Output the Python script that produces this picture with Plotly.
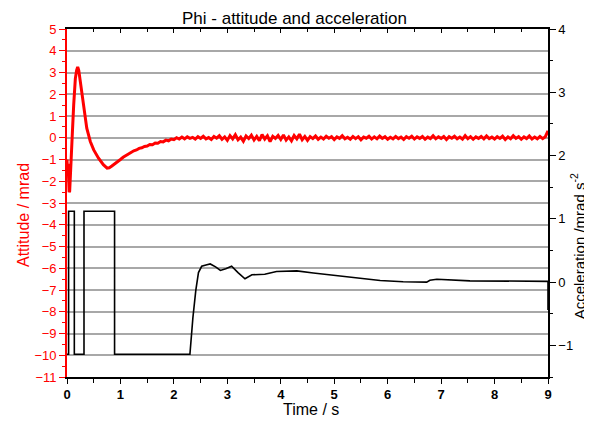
import plotly.graph_objects as go

# ---- data ----
# attitude, transient part
att_t = [0, 0.01, 0.02, 0.03, 0.04, 0.05, 0.06, 0.08, 0.1, 0.125, 0.156, 0.18, 0.2, 0.22, 0.25,
         0.31, 0.37, 0.436, 0.5, 0.59, 0.68, 0.75, 0.79, 0.84, 0.9, 0.965,
         1.0, 1.05, 1.1, 1.15, 1.2, 1.25, 1.3, 1.35, 1.4, 1.45, 1.5, 1.55, 1.6, 1.65, 1.7,
         1.75, 1.8, 1.85, 1.9, 1.95, 2.0, 2.05, 2.1, 2.15, 2.2, 2.25, 2.3]
att_mrad = [-1.0, -1.6, -1.2, -2.0, -2.5, -2.45, -2.0, -1.2, 0.2, 1.5, 2.72, 3.1, 3.26, 3.1, 2.57,
            1.35, 0.44, -0.17, -0.56, -0.94, -1.24, -1.4, -1.38, -1.3, -1.2, -1.08,
            -1.0, -0.9, -0.82, -0.74, -0.68, -0.6, -0.56, -0.49, -0.46, -0.4, -0.38, -0.31, -0.32, -0.24, -0.25,
            -0.17, -0.19, -0.11, -0.14, -0.06, -0.09, 0.0, -0.06, 0.03, -0.05, 0.04, -0.03]
# attitude, settled part
settle_t = [2.35, 2.40, 2.45, 2.50, 2.55, 2.60, 2.65, 2.70, 2.75, 2.80, 2.85, 2.90, 2.95,
            3.00, 3.05, 3.10, 3.15, 3.20, 3.25, 3.30, 3.35, 3.40, 3.45, 3.50, 3.55, 3.60, 3.65,
            3.70, 3.75, 3.80, 3.85, 3.90, 3.95, 4.00, 4.05, 4.10, 4.15, 4.20, 4.25, 4.30, 4.35,
            4.40, 4.45, 4.50, 4.55, 4.60, 4.65, 4.70, 4.75, 4.80, 4.85, 4.90, 4.95, 5.00, 5.05,
            5.10, 5.15, 5.20, 5.25, 5.30, 5.35, 5.40, 5.45, 5.50, 5.55, 5.60, 5.65, 5.70, 5.75,
            5.80, 5.85, 5.90, 5.95, 6.00, 6.05, 6.10, 6.15, 6.20, 6.25, 6.30, 6.35, 6.40, 6.45,
            6.50, 6.55, 6.60, 6.65, 6.70, 6.75, 6.80, 6.85, 6.90, 6.95, 7.00, 7.05, 7.10, 7.15,
            7.20, 7.25, 7.30, 7.35, 7.40, 7.45, 7.50, 7.55, 7.60, 7.65, 7.70, 7.75, 7.80, 7.85,
            7.90, 7.95, 8.00, 8.05, 8.10, 8.15, 8.20, 8.25, 8.30, 8.35, 8.40, 8.45, 8.50, 8.55,
            8.60, 8.65, 8.70, 8.75, 8.80, 8.85, 8.90, 8.95, 9.00]
settle_mrad = [0.02, -0.06, 0.05, -0.03, 0.07, -0.05, 0.01, -0.08, 0.06, -0.02, 0.09, -0.07, 0.04,
               -0.12, 0.10, -0.05, 0.14, -0.09, 0.03, -0.16, 0.08, -0.04, 0.12, -0.10, 0.06, -0.13, 0.15,
               -0.06, 0.09, -0.18, 0.07, -0.03, 0.11, -0.08, 0.13, -0.11, 0.04, -0.14, 0.10, -0.05, 0.16,
               -0.09, 0.06, -0.12, 0.05, -0.04, 0.08, -0.07, 0.03, -0.06, 0.07, -0.02, 0.05, -0.08, 0.04,
               -0.03, 0.09, -0.05, 0.02, -0.07, 0.06, -0.04, 0.05, -0.09, 0.03, -0.02, 0.07, -0.06, 0.04,
               -0.05, 0.08, -0.03, 0.05, -0.07, 0.02, -0.05, 0.06, -0.04, 0.03, -0.08, 0.05, -0.02, 0.07,
               -0.06, 0.04, -0.03, 0.06, -0.07, 0.03, -0.04, 0.09, -0.05, 0.04, -0.03, 0.06, -0.08, 0.05,
               -0.02, 0.07, -0.05, 0.03, -0.06, 0.10, -0.04, 0.05, -0.07, 0.04, -0.03, 0.06, -0.05, 0.08,
               -0.04, 0.03, -0.06, 0.05, -0.03, 0.07, -0.08, 0.04, -0.05, 0.09, -0.03, 0.05, -0.07, 0.04,
               -0.04, 0.08, -0.06, 0.03, -0.05, 0.06, -0.04, 0.05, 0.32]

# angular acceleration command (right axis)
acc_t = [0, 0.03, 0.03, 0.137, 0.137, 0.318, 0.318, 0.89, 0.89, 2.30, 2.355, 2.41, 2.46, 2.52,
         2.6, 2.68, 2.78, 2.87, 2.97, 3.08, 3.2, 3.33, 3.46, 3.7, 3.92, 4.3, 4.61, 4.92, 5.23,
         5.67, 5.86, 6.29, 6.73, 6.79, 6.92, 7.54, 8.16, 8.94, 9.0, 9.0]
acc_val = [-1.14, -1.14, 1.12, 1.12, -1.14, -1.14, 1.12, 1.12, -1.14, -1.14, -0.57, -0.13, 0.15, 0.25,
           0.27, 0.287, 0.24, 0.184, 0.21, 0.25, 0.15, 0.053, 0.115, 0.125, 0.167, 0.177, 0.143, 0.115, 0.088,
           0.05, 0.026, 0.005, 0.0, 0.03, 0.045, 0.02, 0.012, 0.012, 0.012, -0.44]

left_ticks = list(range(-11, 6))
right_ticks = [-1, 0, 1, 2, 3, 4]
x_ticks = list(range(0, 10))

FONT = "Liberation Sans, Arial, sans-serif"
RED = "#ff0000"

fig = go.Figure()
fig.add_trace(go.Scatter(x=att_t + settle_t, y=att_mrad + settle_mrad, mode="lines",
                         line=dict(color=RED, width=3), yaxis="y", xaxis="x",
                         showlegend=False, hoverinfo="skip"))
fig.add_trace(go.Scatter(x=acc_t, y=acc_val, mode="lines",
                         line=dict(color="black", width=1.6), yaxis="y2", xaxis="x",
                         showlegend=False, hoverinfo="skip"))
# invisible trace to carry the top frame axis
fig.add_trace(go.Scatter(x=[0, 9], y=[None, None], xaxis="x2", yaxis="y",
                         mode="lines", showlegend=False, hoverinfo="skip"))

# the page body adds an 8 px offset, so the figure is sized to the visible area
fig.update_layout(
    width=584, height=418,
    margin=dict(l=59, r=44, t=21, b=49, autoexpand=False),
    paper_bgcolor="white", plot_bgcolor="white",
    font=dict(family=FONT, size=13, color="black"),
    xaxis=dict(range=[0, 9], tickvals=x_ticks, ticks="outside", ticklen=5, tickwidth=1.2,
               tickcolor="black", showline=True, linecolor="black", linewidth=1.5,
               showgrid=False, zeroline=False, automargin=False,
               tickfont=dict(size=13, color="black", weight="bold", family=FONT),
               minor=dict(dtick=0.5, ticks="outside", ticklen=4, tickcolor="black", showgrid=False)),
    xaxis2=dict(range=[0, 9], overlaying="x", side="top", anchor="y", tickvals=x_ticks,
                ticks="inside", ticklen=4, tickcolor="black", showticklabels=False,
                showline=True, linecolor="black", linewidth=1.5, showgrid=False, zeroline=False,
                automargin=False,
                minor=dict(dtick=0.5, ticks="inside", ticklen=3, tickcolor="black")),
    yaxis=dict(range=[-11, 5], tickvals=left_ticks, ticks="outside", ticklen=6, tickwidth=1.2,
               tickcolor=RED, showline=True, linecolor=RED, linewidth=1.8,
               showgrid=True, gridcolor="#a8a8a8", gridwidth=1.5, zeroline=False, automargin=False,
               tickfont=dict(size=13, color=RED),
               minor=dict(dtick=0.5, ticks="outside", ticklen=3, tickcolor=RED, showgrid=False)),
    yaxis2=dict(range=[-1.5, 4], tickvals=right_ticks, overlaying="y", side="right", anchor="x",
                ticks="outside", ticklen=6, tickwidth=1.2, tickcolor="black",
                showline=True, linecolor="black", linewidth=1.5, showgrid=False, zeroline=False,
                automargin=False, tickfont=dict(size=13, color="black"),
                minor=dict(dtick=0.5, ticks="outside", ticklen=3, tickcolor="black")),
    annotations=[
        dict(text="Phi - attitude and acceleration", xref="paper", yref="paper",
             x=0.473, y=1.03, xanchor="center", yanchor="middle", showarrow=False,
             font=dict(size=17, color="black", family=FONT)),
        dict(text="Time / s", xref="paper", yref="paper", x=0.507, y=-0.0948,
             xanchor="center", yanchor="middle", showarrow=False,
             font=dict(size=16, color="black", family=FONT)),
        dict(text="Attitude / mrad", xref="paper", yref="paper", x=-0.0915, y=0.4655,
             xanchor="center", yanchor="middle", showarrow=False, textangle=-90,
             font=dict(size=16, color=RED, family=FONT)),
        dict(text="Acceleration /mrad s<sup>-2</sup>", xref="paper", yref="paper",
             x=1.062, y=0.375, xanchor="center", yanchor="middle", showarrow=False,
             textangle=-90, font=dict(size=15, color="black", family=FONT)),
    ],
)

fig.write_html("out.html")
